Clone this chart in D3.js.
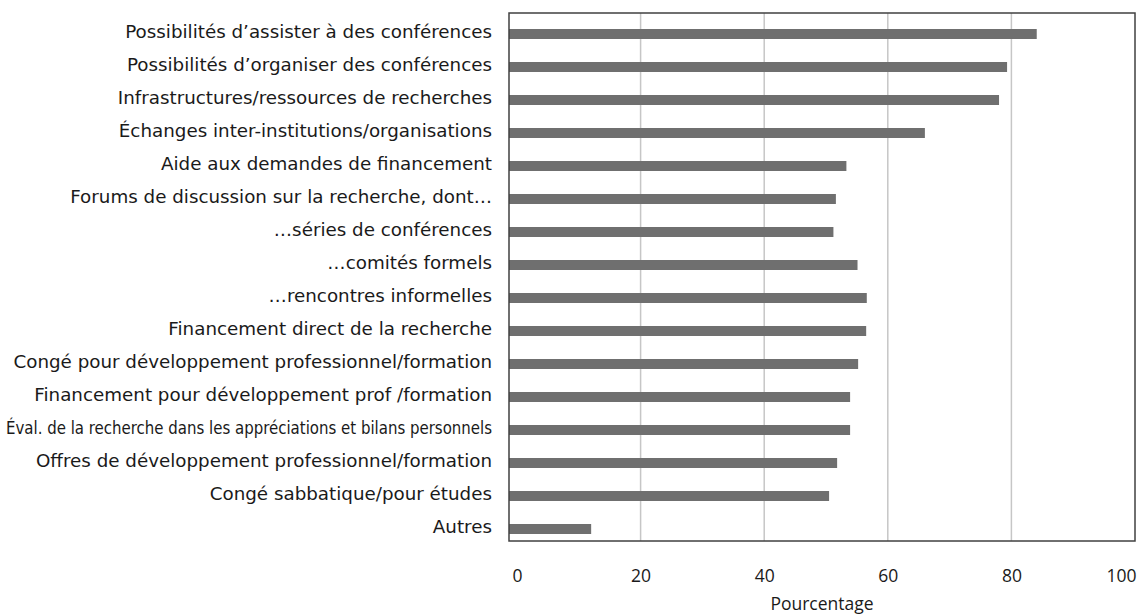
<!DOCTYPE html>
<html>
<head>
<meta charset="utf-8">
<script src="https://cdn.jsdelivr.net/npm/d3@7"></script>
<style>
  body { margin: 0; background: #fff; }
  svg text { font-family: "Open Sans", Roboto, sans-serif; fill: #1a1a1a; }
  svg .cat text { font-family: "DejaVu Sans", "Open Sans", sans-serif; }
</style>
</head>
<body>
<svg id="chart" width="1139" height="616"></svg>
<script>
// Categories (top to bottom) and share of respondents, in percent
const categories = [
  "Possibilités d\u2019assister à des conférences",
  "Possibilités d\u2019organiser des conférences",
  "Infrastructures/ressources de recherches",
  "Échanges inter-institutions/organisations",
  "Aide aux demandes de financement",
  "Forums de discussion sur la recherche, dont\u2026",
  "\u2026séries de conférences",
  "\u2026comités formels",
  "\u2026rencontres informelles",
  "Financement direct de la recherche",
  "Congé pour développement professionnel/formation",
  "Financement pour développement prof /formation",
  "Éval. de la recherche dans les appréciations et bilans personnels",
  "Offres de développement professionnel/formation",
  "Congé sabbatique/pour études",
  "Autres"
];
const values = [84.1, 79.3, 78.0, 66.0, 53.3, 51.6, 51.2, 55.1, 56.6, 56.5, 55.2, 53.9, 53.9, 51.8, 50.5, 12.0];
const tickValues = [0, 20, 40, 60, 80, 100];
const axisTitle = "Pourcentage";

const svg = d3.select("#chart");
const frame = { left: 509, right: 1135, top: 13, bottom: 541 };

const x = d3.scaleLinear().domain([0, 100]).range([517, 1135]);
const y = d3.scaleBand().domain(categories).range([17.5, 545.5]).paddingInner(0.7).paddingOuter(0.35);

// vertical gridlines
svg.append("g")
  .selectAll("line")
  .data(tickValues.filter(t => t > 0 && t < 100))
  .join("line")
  .attr("x1", d => x(d)).attr("x2", d => x(d))
  .attr("y1", frame.top).attr("y2", frame.bottom)
  .attr("stroke", "#c6c6c6").attr("stroke-width", 1.5);

// bars start at the left edge of the plot frame
svg.append("g")
  .selectAll("rect")
  .data(values)
  .join("rect")
  .attr("x", frame.left)
  .attr("y", (d, i) => y(categories[i]) + y.bandwidth() / 2 - 5)
  .attr("width", d => x(d) - frame.left)
  .attr("height", 10)
  .attr("fill", "#6f6f6f");

// plot frame
svg.append("rect")
  .attr("x", frame.left).attr("y", frame.top)
  .attr("width", frame.right - frame.left).attr("height", frame.bottom - frame.top)
  .attr("fill", "none").attr("stroke", "#404040").attr("stroke-width", 1.5);

// category labels
const yAxis = d3.axisLeft(y).tickSize(0).tickPadding(0);
const gy = svg.append("g").attr("class", "cat")
  .attr("transform", `translate(${frame.left - 17},-1.5)`).call(yAxis);
gy.select(".domain").remove();
gy.selectAll("text")
  .style("font-size", "18.3px")
  .attr("fill", "#1a1a1a");
gy.selectAll("text")
  .filter(d => d.startsWith("Éval."))
  .attr("textLength", 486)
  .attr("lengthAdjust", "spacingAndGlyphs");

// value axis labels
const xAxis = d3.axisBottom(x).tickValues(tickValues).tickSize(0).tickPadding(0);
const gx = svg.append("g").attr("transform", `translate(0,${frame.bottom + 29})`).call(xAxis);
gx.select(".domain").remove();
gx.selectAll("text").style("font-size", "17.5px").attr("fill", "#1a1a1a");
gx.selectAll("text").filter(d => d === 100).attr("text-anchor", "end").attr("dx", 1);

svg.append("text")
  .attr("x", (frame.left + frame.right) / 2)
  .attr("y", 610)
  .attr("text-anchor", "middle")
  .style("font-size", "17.5px")
  .text(axisTitle);
</script>
</body>
</html>
